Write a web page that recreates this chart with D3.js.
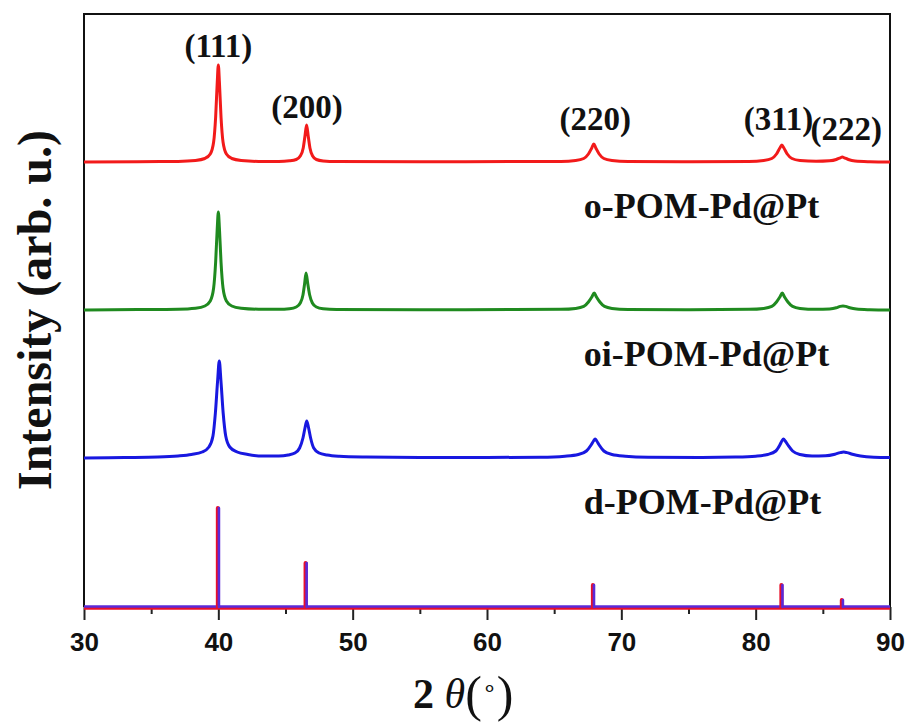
<!DOCTYPE html>
<html>
<head>
<meta charset="utf-8">
<script src="https://cdn.jsdelivr.net/npm/d3@7"></script>
<style>
    body { margin: 0; background: #fff; }
    #chart { width: 910px; height: 722px; }
    .tick text { font-family: "Liberation Sans", Arial, sans-serif; font-weight: bold; font-size: 26px; fill: #111; }
    .serif-label { font-family: "Liberation Serif", "Times New Roman", serif; font-weight: bold; fill: #111; }
</style>
</head>
<body>
<div id="chart"></div>
<script>

/* tick values on the 2-theta axis */
const xMajorTicks = [30, 40, 50, 60, 70, 80, 90];
const xMinorTicks = [35, 45, 55, 65, 75, 85];

/* sample names, colours and vertical stacking offsets (arb. u.) */
const sampleNames = ["o-POM-Pd@Pt", "oi-POM-Pd@Pt", "d-POM-Pd@Pt"];
const sampleColors = ["#f21a1a", "#1f8a1f", "#1818e0"];
const sampleOffsets = [445, 297, 149];

/* diffraction patterns: [2theta, intensity above own baseline] */
const oPattern = [
    [30, 0], [34, 0.3], [37, 0.6], [38.3, 1.5], [39.0, 3.5], [39.4, 8], [39.65, 20], [39.8, 45],
    [39.92, 80], [40.0, 97], [40.08, 80], [40.2, 45], [40.35, 20], [40.6, 8], [41.0, 3.5], [41.7, 1.5],
    [43.0, 0.6], [44.5, 0.6], [45.3, 1.2], [45.8, 2.5], [46.1, 6], [46.32, 14], [46.44, 25], [46.57, 37],
    [46.7, 25], [46.82, 14], [47.02, 6], [47.3, 2.5], [47.8, 1.1], [48.8, 0.5], [55, 0.3], [62, 0.4],
    [65.5, 0.6], [66.6, 1.5], [67.2, 3.5], [67.55, 8], [67.8, 14], [67.95, 18], [68.1, 14], [68.35, 8],
    [68.7, 3.5], [69.3, 1.5], [70.5, 0.5], [75, 0.3], [79.5, 0.6], [80.6, 1.5], [81.2, 3.5], [81.55, 8],
    [81.8, 14], [81.95, 17], [82.1, 14], [82.35, 8], [82.7, 3.5], [83.3, 1.5], [84.5, 0.7], [85.5, 1.2],
    [86.0, 2.5], [86.3, 4.2], [86.45, 5], [86.6, 4.2], [86.9, 2.5], [87.4, 1], [88.5, 0.3], [90, 0]
];

const oiPattern = [
    [30, 0], [34, 0.4], [37, 0.8], [38.3, 1.8], [39.0, 4], [39.4, 9], [39.65, 22], [39.8, 48],
    [39.92, 82], [40.0, 98], [40.08, 82], [40.2, 48], [40.35, 22], [40.6, 9], [41.0, 4], [41.7, 1.8],
    [43.0, 0.8], [44.5, 0.7], [45.3, 1.3], [45.8, 3], [46.1, 7], [46.3, 15], [46.42, 26], [46.53, 37],
    [46.66, 26], [46.8, 15], [47.0, 7], [47.3, 3], [47.8, 1.3], [48.8, 0.6], [55, 0.3], [62, 0.4],
    [65.5, 0.7], [66.6, 1.6], [67.2, 3.6], [67.55, 8], [67.8, 13], [67.98, 17], [68.15, 13], [68.4, 8],
    [68.75, 3.6], [69.3, 1.6], [70.5, 0.6], [75, 0.3], [79.5, 0.7], [80.6, 1.6], [81.2, 3.6], [81.55, 8],
    [81.8, 13], [81.98, 17], [82.15, 13], [82.4, 8], [82.75, 3.6], [83.3, 1.6], [84.5, 0.7], [85.5, 1.1],
    [86.0, 2.2], [86.3, 3.6], [86.5, 4], [86.7, 3.6], [87.0, 2.2], [87.5, 0.9], [88.5, 0.3], [90, 0]
];

const dPattern = [
    [30, 0], [33, 0.5], [35.5, 1], [37, 2], [38, 3.5], [38.8, 6], [39.3, 11], [39.6, 22],
    [39.78, 45], [39.95, 78], [40.07, 97], [40.19, 78], [40.36, 45], [40.55, 22], [40.85, 11], [41.4, 6],
    [42.2, 3.5], [43.3, 2], [44.5, 2], [45.2, 3], [45.7, 5], [46.05, 10], [46.3, 20], [46.45, 30],
    [46.58, 37], [46.72, 30], [46.87, 20], [47.1, 10], [47.5, 5], [48.1, 3], [49, 1.8], [51, 1],
    [55, 0.5], [60, 0.5], [64, 0.8], [65.8, 1.8], [66.8, 3.5], [67.4, 7], [67.75, 13], [67.93, 17],
    [68.05, 19], [68.17, 17], [68.35, 13], [68.7, 7], [69.3, 3.5], [70.3, 1.8], [72, 0.8], [76, 0.5],
    [78.5, 0.9], [80, 1.8], [80.9, 3.5], [81.5, 7], [81.8, 13], [81.95, 17], [82.07, 19], [82.2, 17],
    [82.4, 13], [82.75, 7], [83.3, 3.5], [84.2, 2], [85.2, 2.2], [85.9, 3.8], [86.3, 5.4], [86.55, 6],
    [86.8, 5.4], [87.2, 3.8], [87.8, 2], [88.8, 0.8], [90, 0.5]
];

const samplePatterns = [oPattern, oiPattern, dPattern];

/* reference (standard card) stick positions and heights */
const refPositions = [40.0, 46.53, 67.92, 81.95, 86.45];
const refHeights = [99, 44, 22, 22, 7];

/* Miller index labels: 2theta of the label centre and height above the top baseline */
const hklLabels = ["(111)", "(200)", "(220)", "(311)", "(222)"];
const hklPositions = [40.0, 46.6, 68.05, 81.7, 86.75];
const hklHeights = [105, 44, 32, 32, 22];


function drawXrdChart(container) {

    /* layout */
    const fullWidth = 910, fullHeight = 722;
    const plotLeft = 84, plotRight = 890, plotTop = 14, plotBottom = 607;

    const svg = d3.select(container)
        .append("svg")
        .attr("xmlns", "http://www.w3.org/2000/svg")
        .attr("width", fullWidth)
        .attr("height", fullHeight);

    /* scales */
    const xScale = d3.scaleLinear()
        .domain([30, 90])
        .range([plotLeft, plotRight]);

    const yScale = d3.scaleLinear()
        .domain([0, plotBottom - plotTop])
        .range([plotBottom, plotTop]);

    /* x axis: major ticks with labels, minor ticks without */
    const xAxisGroup = svg.append("g")
        .attr("transform", `translate(0, ${plotBottom})`);

    xAxisGroup.append("g")
        .call(d3.axisBottom(xScale).tickValues(xMinorTicks).tickSize(7).tickFormat(""))
        .call(g => g.select(".domain").remove())
        .call(g => g.selectAll(".tick line").attr("stroke", "#222").attr("stroke-width", 2));

    xAxisGroup.append("g")
        .call(d3.axisBottom(xScale).tickValues(xMajorTicks).tickSize(13).tickPadding(13).tickFormat(d3.format("d")))
        .call(g => g.select(".domain").remove())
        .call(g => g.selectAll(".tick line").attr("stroke", "#222").attr("stroke-width", 2));

    /* frame: left, top and right borders */
    svg.append("path")
        .attr("d", `M${plotLeft},${plotBottom}V${plotTop}H${plotRight}V${plotBottom}`)
        .attr("fill", "none")
        .attr("stroke", "#111")
        .attr("stroke-width", 2);

    /* line generator for the patterns */
    const lineGen = offset => d3.line()
        .x(d => xScale(d[0]))
        .y(d => yScale(d[1] + offset))
        .curve(d3.curveMonotoneX);

    /* draw the three patterns */
    samplePatterns.forEach(function(pattern, i) {
        svg.append("path")
            .datum(pattern)
            .attr("d", lineGen(sampleOffsets[i]))
            .attr("fill", "none")
            .attr("stroke", sampleColors[i])
            .attr("stroke-width", 3)
            .attr("stroke-linejoin", "round");
    });

    /* reference pattern: baseline plus sticks (red edge under violet) */
    const refGroup = svg.append("g");
    const refBase = [[30, 0], [90, 0]];
    refGroup.append("path")
        .datum(refBase)
        .attr("d", d3.line().x(d => xScale(d[0])).y(d => yScale(d[1]) + 1))
        .attr("stroke", "#e8102a")
        .attr("stroke-width", 3.5);
    refGroup.append("path")
        .datum(refBase)
        .attr("d", d3.line().x(d => xScale(d[0])).y(d => yScale(d[1]) - 0.5))
        .attr("stroke", "#5a2ad8")
        .attr("stroke-width", 2.5);

    const sticks = refPositions.map((p, i) => ({ pos: p, h: refHeights[i] }));
    refGroup.selectAll("line.red-edge")
        .data(sticks)
        .join("line")
        .attr("class", "red-edge")
        .attr("x1", d => xScale(d.pos) - 0.5).attr("x2", d => xScale(d.pos) - 0.5)
        .attr("y1", yScale(0)).attr("y2", d => yScale(d.h))
        .attr("stroke", "#e8102a")
        .attr("stroke-width", 4)
        .attr("stroke-linecap", "round");
    refGroup.selectAll("line.violet")
        .data(sticks)
        .join("line")
        .attr("class", "violet")
        .attr("x1", d => xScale(d.pos) + 0.6).attr("x2", d => xScale(d.pos) + 0.6)
        .attr("y1", yScale(0)).attr("y2", d => yScale(d.h))
        .attr("stroke", "#5a2ad8")
        .attr("stroke-width", 2.6)
        .attr("stroke-linecap", "round");

    /* Miller index labels above the top pattern */
    svg.append("g").selectAll("text")
        .data(hklLabels)
        .join("text")
        .attr("class", "serif-label")
        .attr("font-size", 33)
        .attr("text-anchor", "middle")
        .attr("x", (d, i) => xScale(hklPositions[i]))
        .attr("y", (d, i) => yScale(sampleOffsets[0] + hklHeights[i]))
        .text(d => d);

    /* sample names below each pattern */
    svg.append("g").selectAll("text")
        .data(sampleNames)
        .join("text")
        .attr("class", "serif-label")
        .attr("font-size", 36)
        .attr("x", xScale(67.2))
        .attr("y", (d, i) => yScale(sampleOffsets[i]) + 56)
        .text(d => d);

    /* y axis title */
    svg.append("text")
        .attr("class", "serif-label")
        .attr("font-size", 48)
        .attr("text-anchor", "middle")
        .attr("transform", "translate(51, 310) rotate(-90)")
        .text("Intensity (arb. u.)");

    /* x axis title: 2 θ(∘) */
    const xTitle = svg.append("text")
        .attr("class", "serif-label")
        .attr("font-size", 42)
        .attr("x", 413)
        .attr("y", 708);
    xTitle.append("tspan").text("2 ");
    xTitle.append("tspan").attr("font-style", "italic").attr("font-weight", "normal").text("θ");
    xTitle.append("tspan").attr("font-weight", "normal").attr("font-size", 50).attr("dy", 3).text("(");
    xTitle.append("tspan").attr("font-weight", "normal").attr("font-size", 24).attr("dy", -15).text("∘");
    xTitle.append("tspan").attr("font-weight", "normal").attr("font-size", 50).attr("dy", 15).text(")");
}

drawXrdChart(document.getElementById("chart"));

</script>
</body>
</html>
